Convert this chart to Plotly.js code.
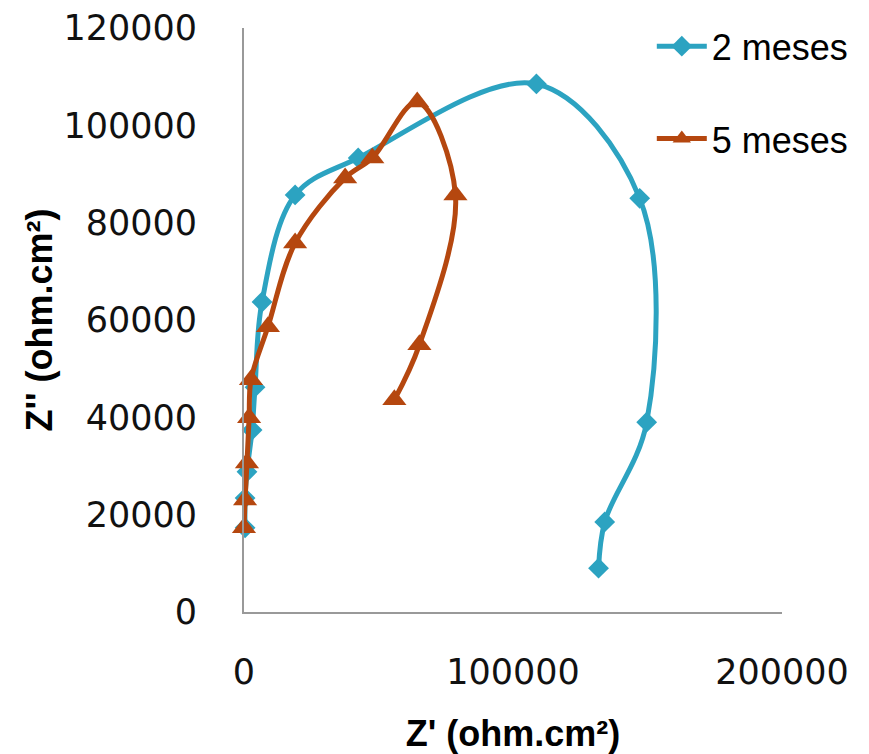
<!DOCTYPE html>
<html>
<head>
<meta charset="utf-8">
<script src="https://cdn.plot.ly/plotly-3.0.1.min.js"></script>
<style>
  html, body { margin: 0; padding: 0; background: #fff; }
  #chart { width: 869px; height: 754px; }
</style>
</head>
<body>
<div id="chart"></div>
<script>
// Nyquist data: real part Z' and imaginary part Z'' (ohm.cm²)
const zReal2m = [131800, 134100, 149700, 147100, 108700, 42450, 19000, 6700, 4100, 3000, 1100, 400, 400];
const zImag2m = [9000, 18500, 39000, 85000, 108500, 93300, 85700, 63700, 46200, 37400, 28800, 23400, 17300];

const zReal5m = [55900, 65200, 78600, 64400, 47700, 37600, 19000, 8900, 2600, 1900, 1100, 400, 0];
const zImag5m = [43600, 54900, 85700, 104800, 93300, 89200, 75800, 58600, 47700, 39900, 30600, 23000, 17300];

const seriesNames = ['2 meses', '5 meses'];
const xTicks = [0, 100000, 200000];
const yTicks = [0, 20000, 40000, 60000, 80000, 100000, 120000];

const blue = '#2ca3c1';
const orange = '#b5470f';

const traces = [
  {
    x: zReal2m, y: zImag2m, name: seriesNames[0],
    type: 'scatter', mode: 'lines+markers', cliponaxis: false,
    line: { color: blue, width: 5, shape: 'spline', smoothing: 1 },
    marker: { symbol: 'diamond', size: 16, color: blue },
    legend: 'legend'
  },
  {
    x: zReal5m, y: zImag5m, name: seriesNames[1],
    type: 'scatter', mode: 'lines+markers', cliponaxis: false,
    line: { color: orange, width: 5, shape: 'spline', smoothing: 1 },
    marker: { symbol: 'triangle-up', size: 21, color: orange },
    legend: 'legend2'
  }
];

const tickFont = { family: 'DejaVu Sans, sans-serif', size: 35, color: '#111' };
const titleFont = { family: 'Liberation Sans, Arial, sans-serif', size: 36, color: '#000', weight: 'bold' };
const legendFont = { family: 'Liberation Sans, Arial, sans-serif', size: 36, color: '#000' };

const layout = {
  width: 869, height: 754,
  margin: { l: 244, r: 87, t: 28, b: 142 },
  paper_bgcolor: '#fff', plot_bgcolor: '#fff',
  showlegend: true,
  xaxis: {
    range: [0, 200000], tickvals: xTicks, ticktext: xTicks.map(String),
    showgrid: false, zeroline: false, showline: true,
    linecolor: '#999', linewidth: 2, ticks: '',
    tickfont: tickFont, ticklabelstandoff: 28,
    title: { text: "Z' (ohm.cm²)", font: titleFont, standoff: 36 },
    automargin: false
  },
  yaxis: {
    range: [0, 120000], tickvals: yTicks, ticktext: yTicks.map(String),
    showgrid: false, zeroline: false, showline: true,
    linecolor: '#999', linewidth: 2, ticks: '',
    tickfont: tickFont, ticklabelstandoff: 38,
    title: { text: "Z'' (ohm.cm²)", font: titleFont, standoff: 0 },
    automargin: false
  },
  legend: {
    x: 0.758, y: 1.02, xanchor: 'left', yanchor: 'top',
    font: legendFont, bgcolor: 'rgba(0,0,0,0)', itemwidth: 50
  },
  legend2: {
    x: 0.758, y: 0.862, xanchor: 'left', yanchor: 'top',
    font: legendFont, bgcolor: 'rgba(0,0,0,0)', itemwidth: 50
  }
};

Plotly.newPlot('chart', traces, layout, { displayModeBar: false, staticPlot: true });
</script>
</body>
</html>
